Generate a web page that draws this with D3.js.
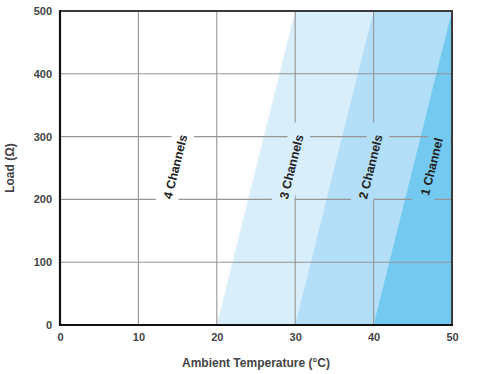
<!DOCTYPE html>
<html><head><meta charset="utf-8">
<script src="https://cdn.jsdelivr.net/npm/d3@7"></script>
<style>body{margin:0;background:#fff}svg{display:block}</style>
</head><body>
<script>
const xTicks = [0, 10, 20, 30, 40, 50];
const yTicks = [0, 100, 200, 300, 400, 500];
const labels = ["4 Channels", "3 Channels", "2 Channels", "1 Channel"];
const labelTemp = [14.7, 29.5, 39.6, 47.4];
const labelLoad = [252, 252, 252, 252];
// boundary lines of each shaded region: temperature at load 0 and at load 500
const bandTempAt0 = [20, 30, 40];
const bandTempAt500 = [30, 40, 50];
const bandColors = ["#d9eefb", "#b3def7", "#74c9f0"];

const W = 477, H = 374;
const m = {l: 60, r: 25, t: 11, b: 49};
const svg = d3.select("body").append("svg").attr("width", W).attr("height", H);
const x = d3.scaleLinear().domain([0, 50]).range([m.l, W - m.r]);
const y = d3.scaleLinear().domain([0, 500]).range([H - m.b, m.t]);
const angle = -Math.atan2(y(0) - y(500), x(10) - x(0)) * 180 / Math.PI;

// bands
bandTempAt0.forEach((t0, i) => {
  const pts = [[t0, 0], [bandTempAt500[i], 500], [50, 500], [50, 0]];
  svg.append("path")
    .attr("d", d3.line().x(d => x(d[0])).y(d => y(d[1]))(pts) + "Z")
    .attr("fill", bandColors[i]);
});

// mask for grid gaps around labels
const defs = svg.append("defs");
const mask = defs.append("mask").attr("id", "gridmask").attr("maskUnits", "userSpaceOnUse")
  .attr("x", 0).attr("y", 0).attr("width", W).attr("height", H);
mask.append("rect").attr("width", W).attr("height", H).attr("fill", "#fff");
labels.forEach((l, i) => {
  mask.append("rect")
    .attr("x", -44).attr("y", -11).attr("width", 88).attr("height", 22)
    .attr("fill", "#000")
    .attr("transform", `translate(${x(labelTemp[i])},${y(labelLoad[i])}) rotate(${angle})`);
});

const grid = svg.append("g").attr("mask", "url(#gridmask)")
  .attr("stroke", "#959595").attr("stroke-width", 1.1);
xTicks.slice(1, -1).forEach(t => grid.append("line")
  .attr("x1", x(t)).attr("x2", x(t)).attr("y1", y(0)).attr("y2", y(500)));
yTicks.slice(1, -1).forEach(t => grid.append("line")
  .attr("x1", x(0)).attr("x2", x(50)).attr("y1", y(t)).attr("y2", y(t)));

// frame
svg.append("rect").attr("x", x(0)).attr("y", y(500))
  .attr("width", x(50) - x(0)).attr("height", y(0) - y(500))
  .attr("fill", "none").attr("stroke", "#3a3a3a").attr("stroke-width", 2);
svg.append("line").attr("x1", x(0)).attr("x2", x(0)).attr("y1", y(500) - 1).attr("y2", y(0) + 1)
  .attr("stroke", "#111").attr("stroke-width", 2.2);
svg.append("line").attr("x1", x(0) - 1).attr("x2", x(50) + 1).attr("y1", y(0)).attr("y2", y(0))
  .attr("stroke", "#111").attr("stroke-width", 2.2);

// channel labels
labels.forEach((l, i) => {
  svg.append("text")
    .attr("transform", `translate(${x(labelTemp[i])},${y(labelLoad[i])}) rotate(${angle})`)
    .attr("text-anchor", "middle").attr("dy", "0.36em")
    .attr("font-family", "Liberation Sans, Arial, sans-serif").attr("font-weight", "bold")
    .attr("font-size", 12.3).attr("fill", "#222").text(l);
});

// axes (tick labels only)
const font = "Liberation Sans, Arial, sans-serif";
const xa = svg.append("g").attr("transform", `translate(0,${y(0)})`)
  .call(d3.axisBottom(x).tickValues(xTicks).tickSize(0).tickPadding(8).tickFormat(d3.format("d")));
const ya = svg.append("g").attr("transform", `translate(${x(0)},0)`)
  .call(d3.axisLeft(y).tickValues(yTicks).tickSize(0).tickPadding(8).tickFormat(d3.format("d")));
[xa, ya].forEach(a => {
  a.select(".domain").remove();
  a.selectAll("text").attr("font-family", font).attr("font-weight", "bold")
    .attr("font-size", 11).attr("fill", "#444");
});

svg.append("text").attr("x", (x(0) + x(50)) / 2).attr("y", 367)
  .attr("text-anchor", "middle").attr("font-family", font).attr("font-weight", "bold")
  .attr("font-size", 12).attr("fill", "#444").text("Ambient Temperature (°C)");
svg.append("text").attr("transform", `translate(14,${(y(0) + y(500)) / 2}) rotate(-90)`)
  .attr("text-anchor", "middle").attr("font-family", font).attr("font-weight", "bold")
  .attr("font-size", 12).attr("fill", "#444").text("Load (Ω)");
</script>
</body></html>
